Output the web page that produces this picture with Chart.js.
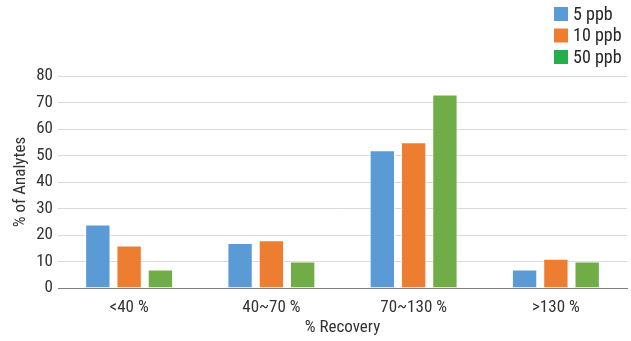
<!DOCTYPE html>
<html>
<head>
<meta charset="utf-8">
<script src="https://cdn.jsdelivr.net/npm/chart.js@4/dist/chart.umd.min.js"></script>
<style>
  html, body { margin: 0; padding: 0; background: #ffffff; }
  #wrap { width: 631px; height: 341px; position: relative; }
</style>
</head>
<body>
<div id="wrap"><canvas id="c"></canvas></div>
<script>
const categories = ['<40 %', '40~70 %', '70~130 %', '>130 %'];
const seriesNames = ['5 ppb', '10 ppb', '50 ppb'];
const ppb5 = [24, 17, 52, 7];
const ppb10 = [16, 18, 55, 11];
const ppb50 = [7, 10, 73, 10];
const yTicks = [0, 10, 20, 30, 40, 50, 60, 70, 80];

const FONT = "'Liberation Sans Narrow', 'Roboto Condensed', 'Arial Narrow', 'Roboto', sans-serif";
const TEXT = '#333333';
const barColors = ['#5b9bd5', '#ed7d31', '#70ad47'];
const keyColors = ['#5b9bd5', '#ed7d31', '#21b04b'];

// Vertical legend in the top-right corner
const cornerLegend = {
  id: 'cornerLegend',
  afterDraw(chart) {
    const ctx = chart.ctx;
    ctx.save();
    ctx.font = '18px ' + FONT;
    ctx.textBaseline = 'middle';
    chart.data.datasets.forEach((ds, i) => {
      const y = 14 + i * 21.5;
      ctx.fillStyle = keyColors[i];
      ctx.fillRect(554, y - 7, 14, 14);
      ctx.fillStyle = '#262626';
      ctx.fillText(ds.label, 573, y + 1);
    });
    ctx.restore();
  }
};

const datasets = [ppb5, ppb10, ppb50].map((vals, i) => ({
  label: seriesNames[i],
  data: vals,
  backgroundColor: barColors[i],
  borderColor: 'rgba(255,255,255,0.7)',
  borderWidth: 1,
  barPercentage: 0.81,
  categoryPercentage: 0.66
}));

new Chart(document.getElementById('c'), {
  type: 'bar',
  data: { labels: categories, datasets },
  options: {
    responsive: true,
    maintainAspectRatio: false,
    animation: false,
    layout: { padding: { top: 76, right: 4, left: 0, bottom: 0 } },
    plugins: {
      legend: { display: false },
      tooltip: { enabled: false }
    },
    scales: {
      x: {
        afterFit(axis) { axis.height = 53; },
        grid: { display: false, drawTicks: false },
        border: { display: true, color: '#7f7f7f', width: 1 },
        ticks: { color: TEXT, font: { family: FONT, size: 17 }, padding: 10 },
        title: { display: true, text: '% Recovery', color: TEXT, font: { family: FONT, size: 17 }, padding: { top: 0, bottom: 3 } }
      },
      y: {
        min: 0,
        max: 80,
        afterBuildTicks(axis) { axis.ticks = yTicks.map(v => ({ value: v })); },
        afterFit(axis) { axis.width = 58; },
        grid: { color: '#d9d9d9', drawTicks: false, lineWidth: 1 },
        border: { display: false },
        ticks: { color: TEXT, font: { family: FONT, size: 17 }, padding: 5 },
        title: { display: true, text: '% of Analytes', color: TEXT, font: { family: FONT, size: 17 }, padding: { top: 11, bottom: 0 } }
      }
    }
  },
  plugins: [cornerLegend]
});
</script>
</body>
</html>
